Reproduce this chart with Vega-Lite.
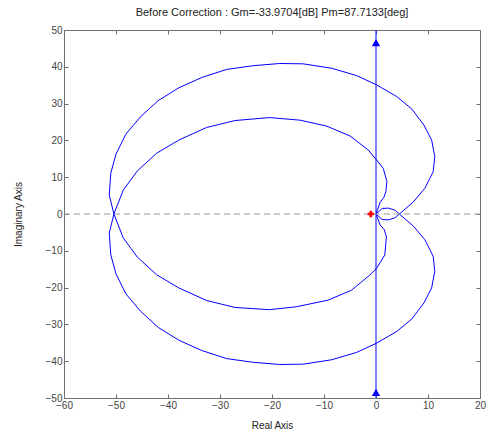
{
  "$schema": "https://vega.github.io/schema/vega-lite/v6.json",
  "width": 416,
  "height": 368,
  "autosize": "none",
  "padding": {"left": 64, "top": 30, "right": 6, "bottom": 37},
  "background": "white",
  "config": {
    "font": "Liberation Sans",
    "view": {"stroke": "#6e6e6e", "strokeWidth": 1},
    "axis": {"grid": false, "domain": false, "tickColor": "#6e6e6e", "tickSize": -4, "labelColor": "#444444", "labelFontSize": 10, "titleFontSize": 10, "titleFontWeight": "normal", "titleColor": "#222222", "labelFont": "Liberation Sans", "titleFont": "Liberation Sans", "labelOverlap": false},
    "title": {"fontSize": 11, "fontWeight": "normal", "color": "#222222", "font": "Liberation Sans"}
  },
  "title": {"text": "Before Correction : Gm=-33.9704[dB] Pm=87.7133[deg]", "offset": 7},
  "datasets": {
    "curves": [
      {"series": "vline", "i": 0, "x": 0, "y": -50},
      {"series": "vline", "i": 1, "x": 0, "y": 50},
      {"series": "outer", "i": 0, "x": 0, "y": 0},
      {"series": "outer", "i": 1, "x": 1.2, "y": -1.5},
      {"series": "outer", "i": 2, "x": 2.4, "y": -1.6},
      {"series": "outer", "i": 3, "x": 3.7, "y": -1.0},
      {"series": "outer", "i": 4, "x": 4.5, "y": 0},
      {"series": "outer", "i": 5, "x": 7.2, "y": 3.3},
      {"series": "outer", "i": 6, "x": 9.4, "y": 7.0},
      {"series": "outer", "i": 7, "x": 11.0, "y": 11.5},
      {"series": "outer", "i": 8, "x": 11.3, "y": 15.6},
      {"series": "outer", "i": 9, "x": 10.7, "y": 20.1},
      {"series": "outer", "i": 10, "x": 9.2, "y": 24.2},
      {"series": "outer", "i": 11, "x": 6.9, "y": 28.5},
      {"series": "outer", "i": 12, "x": 4.0, "y": 31.9},
      {"series": "outer", "i": 13, "x": 0.1, "y": 35.1},
      {"series": "outer", "i": 14, "x": -3.7, "y": 37.6},
      {"series": "outer", "i": 15, "x": -8.5, "y": 39.6},
      {"series": "outer", "i": 16, "x": -14.0, "y": 40.8},
      {"series": "outer", "i": 17, "x": -18.5, "y": 40.9},
      {"series": "outer", "i": 18, "x": -23.6, "y": 40.3},
      {"series": "outer", "i": 19, "x": -28.7, "y": 39.3},
      {"series": "outer", "i": 20, "x": -33.5, "y": 37.1},
      {"series": "outer", "i": 21, "x": -37.9, "y": 34.3},
      {"series": "outer", "i": 22, "x": -41.9, "y": 30.8},
      {"series": "outer", "i": 23, "x": -45.3, "y": 26.4},
      {"series": "outer", "i": 24, "x": -48.1, "y": 21.7},
      {"series": "outer", "i": 25, "x": -50.0, "y": 16.3},
      {"series": "outer", "i": 26, "x": -51.0, "y": 11.1},
      {"series": "outer", "i": 27, "x": -51.3, "y": 5.2},
      {"series": "outer", "i": 28, "x": -50.4, "y": 0},
      {"series": "outer", "i": 29, "x": -51.3, "y": -5.2},
      {"series": "outer", "i": 30, "x": -51.0, "y": -11.1},
      {"series": "outer", "i": 31, "x": -50.0, "y": -16.3},
      {"series": "outer", "i": 32, "x": -48.1, "y": -21.7},
      {"series": "outer", "i": 33, "x": -45.3, "y": -26.4},
      {"series": "outer", "i": 34, "x": -41.9, "y": -30.8},
      {"series": "outer", "i": 35, "x": -37.9, "y": -34.3},
      {"series": "outer", "i": 36, "x": -33.5, "y": -37.1},
      {"series": "outer", "i": 37, "x": -28.7, "y": -39.3},
      {"series": "outer", "i": 38, "x": -23.6, "y": -40.3},
      {"series": "outer", "i": 39, "x": -18.5, "y": -40.9},
      {"series": "outer", "i": 40, "x": -14.0, "y": -40.8},
      {"series": "outer", "i": 41, "x": -8.5, "y": -39.6},
      {"series": "outer", "i": 42, "x": -3.7, "y": -37.6},
      {"series": "outer", "i": 43, "x": 0.1, "y": -35.1},
      {"series": "outer", "i": 44, "x": 4.0, "y": -31.9},
      {"series": "outer", "i": 45, "x": 6.9, "y": -28.5},
      {"series": "outer", "i": 46, "x": 9.2, "y": -24.2},
      {"series": "outer", "i": 47, "x": 10.7, "y": -20.1},
      {"series": "outer", "i": 48, "x": 11.3, "y": -15.6},
      {"series": "outer", "i": 49, "x": 11.0, "y": -11.5},
      {"series": "outer", "i": 50, "x": 9.4, "y": -7.0},
      {"series": "outer", "i": 51, "x": 7.2, "y": -3.3},
      {"series": "outer", "i": 52, "x": 4.5, "y": 0},
      {"series": "outer", "i": 53, "x": 3.7, "y": 1.0},
      {"series": "outer", "i": 54, "x": 2.4, "y": 1.6},
      {"series": "outer", "i": 55, "x": 1.2, "y": 1.5},
      {"series": "outer", "i": 56, "x": 0, "y": 0},
      {"series": "inner", "i": 0, "x": 0, "y": 0},
      {"series": "inner", "i": 1, "x": 0.8, "y": 3.2},
      {"series": "inner", "i": 2, "x": 1.5, "y": 4.5},
      {"series": "inner", "i": 3, "x": 1.9, "y": 6.1},
      {"series": "inner", "i": 4, "x": 2.1, "y": 8.8},
      {"series": "inner", "i": 5, "x": 1.4, "y": 12.4},
      {"series": "inner", "i": 6, "x": 0.1, "y": 14.7},
      {"series": "inner", "i": 7, "x": -1.5, "y": 17.4},
      {"series": "inner", "i": 8, "x": -5.0, "y": 21.2},
      {"series": "inner", "i": 9, "x": -9.5, "y": 23.9},
      {"series": "inner", "i": 10, "x": -14.6, "y": 25.5},
      {"series": "inner", "i": 11, "x": -20.5, "y": 26.2},
      {"series": "inner", "i": 12, "x": -27.1, "y": 25.4},
      {"series": "inner", "i": 13, "x": -32.6, "y": 23.5},
      {"series": "inner", "i": 14, "x": -37.9, "y": 20.1},
      {"series": "inner", "i": 15, "x": -42.2, "y": 16.5},
      {"series": "inner", "i": 16, "x": -45.9, "y": 11.7},
      {"series": "inner", "i": 17, "x": -48.6, "y": 6.5},
      {"series": "inner", "i": 18, "x": -50.4, "y": 0},
      {"series": "inner", "i": 19, "x": -48.6, "y": -6.5},
      {"series": "inner", "i": 20, "x": -45.9, "y": -11.7},
      {"series": "inner", "i": 21, "x": -42.2, "y": -16.5},
      {"series": "inner", "i": 22, "x": -37.9, "y": -20.1},
      {"series": "inner", "i": 23, "x": -32.6, "y": -23.5},
      {"series": "inner", "i": 24, "x": -27.1, "y": -25.4},
      {"series": "inner", "i": 25, "x": -20.5, "y": -26.0},
      {"series": "inner", "i": 26, "x": -15.3, "y": -25.2},
      {"series": "inner", "i": 27, "x": -9.2, "y": -23.4},
      {"series": "inner", "i": 28, "x": -4.7, "y": -20.7},
      {"series": "inner", "i": 29, "x": -1.2, "y": -16.6},
      {"series": "inner", "i": 30, "x": 0.1, "y": -14.8},
      {"series": "inner", "i": 31, "x": 1.7, "y": -11.1},
      {"series": "inner", "i": 32, "x": 2.0, "y": -6.2},
      {"series": "inner", "i": 33, "x": 1.6, "y": -4.3},
      {"series": "inner", "i": 34, "x": 0.8, "y": -3.0},
      {"series": "inner", "i": 35, "x": 0, "y": 0}
    ],
    "arrows": [
      {"x": 0, "y": 46.6},
      {"x": 0, "y": -48.5}
    ],
    "critical": [
      {"x": -1, "y": 0}
    ]
  },
  "layer": [
    {
      "layer": [
        {
          "data": {"name": "curves"},
          "mark": {"type": "line", "color": "#0000ff", "strokeWidth": 1, "clip": true},
          "encoding": {
            "x": {"field": "x", "type": "quantitative", "scale": {"domain": [-60, 20], "nice": false, "zero": false},
                  "axis": {"title": "Real Axis", "values": [-60, -50, -40, -30, -20, -10, 0, 10, 20], "labelPadding": 6, "titlePadding": 10, "labelFlush": false, "labelOverlap": false}},
            "y": {"field": "y", "type": "quantitative", "scale": {"domain": [-50, 50], "nice": false, "zero": false},
                  "axis": {"title": "Imaginary Axis", "values": [-50, -40, -30, -20, -10, 0, 10, 20, 30, 40, 50], "labelPadding": 6, "titlePadding": 22, "labelFlush": false, "labelOverlap": false}},
            "detail": {"field": "series"},
            "order": {"field": "i", "type": "quantitative"}
          }
        },
        {
          "data": {"values": [{"y": 0}]},
          "mark": {"type": "rule", "color": "#9a9a9a", "strokeDash": [6, 4], "strokeWidth": 1},
          "encoding": {"y": {"field": "y", "type": "quantitative",
                  "axis": {"title": "Imaginary Axis", "values": [-50, -40, -30, -20, -10, 0, 10, 20, 30, 40, 50], "labelPadding": 6, "titlePadding": 22, "labelFlush": false, "labelOverlap": false}}}
        },
        {
          "data": {"name": "arrows"},
          "mark": {"type": "point", "shape": "triangle-up", "filled": true, "color": "#0000ff", "size": 70, "opacity": 1},
          "encoding": {
            "x": {"field": "x", "type": "quantitative",
                  "axis": {"title": "Real Axis", "values": [-60, -50, -40, -30, -20, -10, 0, 10, 20], "labelPadding": 6, "titlePadding": 10, "labelFlush": false, "labelOverlap": false}},
            "y": {"field": "y", "type": "quantitative",
                  "axis": {"title": "Imaginary Axis", "values": [-50, -40, -30, -20, -10, 0, 10, 20, 30, 40, 50], "labelPadding": 6, "titlePadding": 22, "labelFlush": false, "labelOverlap": false}}
          }
        }
      ]
    },
    {
      "data": {"name": "critical"},
      "mark": {"type": "point", "shape": "cross", "filled": true, "color": "#ff0000", "size": 40, "opacity": 1},
      "encoding": {
        "x": {"field": "x", "type": "quantitative", "axis": {"orient": "top", "labels": false, "title": null, "values": [-60, -50, -40, -30, -20, -10, 0, 10, 20]}},
        "y": {"field": "y", "type": "quantitative", "axis": {"orient": "right", "labels": false, "title": null, "values": [-50, -40, -30, -20, -10, 0, 10, 20, 30, 40, 50]}}
      }
    }
  ],
  "resolve": {"axis": {"x": "independent", "y": "independent"}}
}
